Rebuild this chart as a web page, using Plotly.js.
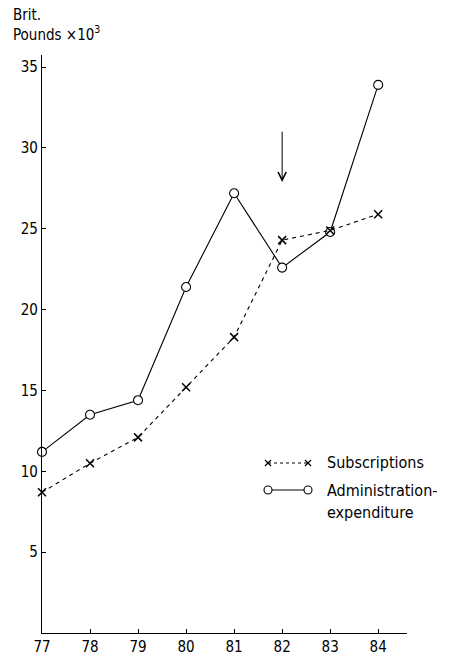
<!DOCTYPE html>
<html>
<head>
<meta charset="utf-8">
<script src="https://cdn.plot.ly/plotly-3.0.1.min.js"></script>
<style>html,body{margin:0;padding:0;background:#fff;}#chart{width:449px;height:656px;}</style>
</head>
<body>
<div id="chart"></div>
<script>
// ---- data ----
var years = [77, 78, 79, 80, 81, 82, 83, 84];
var subscriptions = [8.7, 10.5, 12.1, 15.2, 18.3, 24.3, 24.9, 25.9];
var administration = [11.2, 13.5, 14.4, 21.4, 27.2, 22.6, 24.8, 33.9];
var tickYears = [77, 78, 79, 80, 81, 82, 83, 84];
var tickYearLabels = ["77", "78", "79", "80", "81", "82", "83", "84"];
var tickValues = [5, 10, 15, 20, 25, 30, 35];
var tickValueLabels = ["5", "10", "15", "20", "25", "30", "35"];
var arrowYear = 82;
var arrowFrom = 31.1;
var arrowTo = 27.9;
var seriesNames = ["Subscriptions", "Administration-", "expenditure"];

// ---- layout helpers (pixel -> paper) ----
var W = 449, H = 656, L = 42, R = 42, T = 55, B = 23;
function px(x) { return (x - L) / (W - L - R); }
function py(y) { return (H - B - y) / (H - T - B); }

var FONT = "DejaVu Sans Condensed, Liberation Sans Narrow, DejaVu Sans, sans-serif";

var traces = [
  {
    x: years, y: administration, type: "scatter", mode: "lines+markers",
    name: "Administration-expenditure",
    line: {color: "#000", width: 1.1},
    marker: {symbol: "circle", size: 9, color: "#fff", line: {color: "#000", width: 1.1}},
    cliponaxis: false
  },
  {
    x: years, y: subscriptions, type: "scatter", mode: "lines+markers",
    name: "Subscriptions",
    line: {color: "#000", width: 1.1, dash: "4px,4px"},
    marker: {symbol: "x-thin-open", size: 8, color: "#000", line: {color: "#000", width: 1.5}},
    cliponaxis: false
  }
];

// legend drawn by hand
var shapes = [];
var lgX1 = 268, lgX2 = 308, lgY1 = 463, lgY2 = 490;
shapes.push({type: "line", xref: "paper", yref: "paper", x0: px(lgX1), x1: px(lgX2), y0: py(lgY1), y1: py(lgY1),
  line: {color: "#000", width: 1, dash: "3px,3px"}});
[lgX1, lgX2].forEach(function (cx) {
  shapes.push({type: "line", xref: "paper", yref: "paper", x0: px(cx - 3), x1: px(cx + 3), y0: py(lgY1 - 3), y1: py(lgY1 + 3), line: {color: "#000", width: 1.2}});
  shapes.push({type: "line", xref: "paper", yref: "paper", x0: px(cx - 3), x1: px(cx + 3), y0: py(lgY1 + 3), y1: py(lgY1 - 3), line: {color: "#000", width: 1.2}});
});
shapes.push({type: "line", xref: "paper", yref: "paper", x0: px(lgX1), x1: px(lgX2), y0: py(lgY2), y1: py(lgY2),
  line: {color: "#000", width: 1}});
[lgX1, lgX2].forEach(function (cx) {
  shapes.push({type: "circle", xref: "paper", yref: "paper", x0: px(cx - 4), x1: px(cx + 4), y0: py(lgY2 - 4), y1: py(lgY2 + 4),
    fillcolor: "#fff", line: {color: "#000", width: 1.1}});
});

var annotations = [
  {xref: "paper", yref: "paper", x: px(11), y: py(4), xanchor: "left", yanchor: "top", align: "left",
   showarrow: false, text: "Brit.<br>Pounds ×10<sup>3</sup>", font: {family: FONT, size: 15, color: "#000"}},
  {xref: "paper", yref: "paper", x: px(325), y: py(lgY1), xanchor: "left", yanchor: "middle",
   showarrow: false, text: seriesNames[0], font: {family: FONT, size: 16, color: "#000"}},
  {xref: "paper", yref: "paper", x: px(325), y: py(lgY2), xanchor: "left", yanchor: "middle",
   showarrow: false, text: seriesNames[1], font: {family: FONT, size: 16, color: "#000"}},
  {xref: "paper", yref: "paper", x: px(325), y: py(512), xanchor: "left", yanchor: "middle",
   showarrow: false, text: seriesNames[2], font: {family: FONT, size: 16, color: "#000"}},
  {x: arrowYear, y: arrowTo, xref: "x", yref: "y", ax: arrowYear, ay: arrowFrom, axref: "x", ayref: "y",
   showarrow: true, arrowhead: 5, arrowsize: 1.6, arrowwidth: 1, arrowcolor: "#000", text: ""}
];

var layout = {
  width: W, height: H,
  margin: {l: L, r: R, t: T, b: B, pad: 0},
  paper_bgcolor: "#fff", plot_bgcolor: "#fff",
  showlegend: false,
  font: {family: FONT, size: 14, color: "#000"},
  xaxis: {
    range: [77, 84.6], showgrid: false, zeroline: false,
    showline: true, linecolor: "#000", linewidth: 1.2,
    ticks: "inside", ticklen: 4, tickcolor: "#000", tickwidth: 1,
    tickvals: tickYears, ticktext: tickYearLabels,
    tickfont: {family: FONT, size: 15, color: "#000"}
  },
  yaxis: {
    range: [0, 35.75], showgrid: false, zeroline: false,
    showline: true, linecolor: "#000", linewidth: 1.2,
    ticks: "inside", ticklen: 4, tickcolor: "#000", tickwidth: 1,
    tickvals: tickValues, ticktext: tickValueLabels,
    tickfont: {family: FONT, size: 15, color: "#000"}
  },
  shapes: shapes,
  annotations: annotations
};

Plotly.newPlot("chart", traces, layout, {displayModeBar: false, staticPlot: true});
</script>
</body>
</html>
